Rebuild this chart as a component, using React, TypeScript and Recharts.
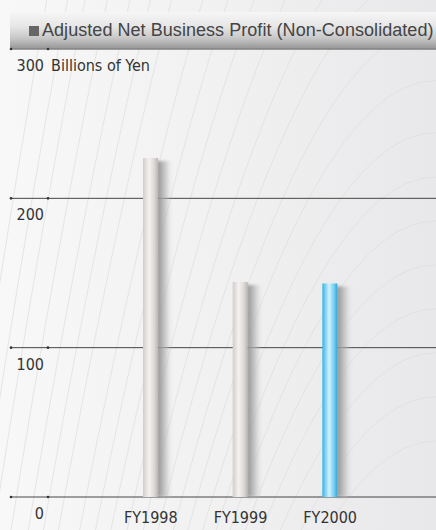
import React from "react";
import { BarChart, Bar, XAxis, YAxis, CartesianGrid } from "recharts";

const categories = ["FY1998", "FY1999", "FY2000"];
const profit = [227, 144, 143];
const yTicks = [0, 100, 200, 300];

const data = categories.map((name, i) => ({ name, profit: profit[i] }));

const NARROW = "'Liberation Sans Narrow', 'DejaVu Sans Condensed', 'Liberation Sans', sans-serif";

// backdrop swirl: where each faint curve crosses y=200 (decoration only)
const swirlX = [13, 32, 48, 68, 88, 106, 124, 150, 170, 190, 212, 235, 257, 282, 308, 340, 380];
const swirlTops = [221, 265, 309, 353, 397, 441];
const K = 137;

function swirlPath(top: number) {
  const x0 = 436 - Math.sqrt(K * (560 - top));
  return `M436,${top} Q${(436 + x0) / 2},${top} ${x0},560`;
}

function YTick(props: any) {
  const { y, payload } = props;
  const v = payload.value;
  return (
    <g>
      <circle cx={11} cy={y} r={1.3} fill="#333" />
      <circle cx={48} cy={y} r={1.3} fill="#333" />
      <text x={44} y={y + 22} textAnchor="end" fontSize={16} fill="#333" fontFamily={NARROW}>
        {v}
      </text>
      {v === 300 && (
        <text x={51} y={y + 22} fontSize={16} fill="#333" fontFamily={NARROW}>
          Billions of Yen
        </text>
      )}
    </g>
  );
}

function XTick(props: any) {
  const { x, y, payload } = props;
  return (
    <text x={x} y={y + 18} textAnchor="middle" fontSize={16} fill="#333" fontFamily={NARROW}>
      {payload.value}
    </text>
  );
}

function BarShape(props: any) {
  const { x, y, width, height, index } = props;
  const fill = index === 2 ? "url(#cyanBar)" : "url(#silverBar)";
  return (
    <g>
      <rect x={x + width - 1} y={y + 3} width={15} height={height - 3} fill="url(#shadowGrad)" filter="url(#soft)" />
      <rect x={x} y={y} width={width} height={height} fill={fill} />
    </g>
  );
}

export default function App() {
  return (
    <div
      style={{
        position: "absolute",
        left: 0,
        top: 0,
        width: 436,
        height: 530,
        overflow: "hidden",
        background: "linear-gradient(90deg, #f8f8f8 0%, #f1f1f2 50%, #e8e8ea 100%)",
      }}
    >
      <svg width={436} height={530} style={{ position: "absolute", left: 0, top: 0 }}>
        {swirlX.map((x) => {
          const top = 200 - ((436 - x) * (436 - x)) / K;
          return <path key={x} d={swirlPath(top)} fill="none" stroke="#dcdcde" strokeWidth={0.7} />;
        })}
        {swirlTops.map((t) => (
          <path key={t} d={swirlPath(t)} fill="none" stroke="#dcdcde" strokeWidth={0.7} />
        ))}
      </svg>
      <div
        style={{
          position: "absolute",
          left: 10,
          top: 12,
          width: 426,
          height: 36,
          background: "linear-gradient(180deg, #f6f6f6 0%, #e6e6e6 40%, #c8c8c8 72%, #9a9a9a 100%)",
          borderBottom: "1px solid #d0d0d0",
        }}
      >
        <div
          style={{
            position: "absolute",
            left: 19,
            top: 7,
            fontFamily: "'Liberation Sans', Arial, sans-serif",
            fontSize: 18,
            letterSpacing: 0.05,
            color: "#444",
            whiteSpace: "nowrap",
            lineHeight: "22px",
          }}
        >
          <span
            style={{
              display: "inline-block",
              width: 10,
              height: 10,
              background: "#666",
              marginRight: 3,
              verticalAlign: "0px",
            }}
          />
          Adjusted Net Business Profit (Non-Consolidated)
        </div>
      </div>
      <div style={{ position: "absolute", left: 0, top: 0 }}>
        <BarChart width={436} height={530} data={data} margin={{ top: 49, right: 0, bottom: 0, left: 9 }}>
          <defs>
            <linearGradient id="silverBar" x1="0" y1="0" x2="1" y2="0">
              <stop offset="0%" stopColor="#d2cdcb" />
              <stop offset="40%" stopColor="#f4f2f1" />
              <stop offset="75%" stopColor="#dcd8d6" />
              <stop offset="100%" stopColor="#bcb6b4" />
            </linearGradient>
            <linearGradient id="cyanBar" x1="0" y1="0" x2="1" y2="0">
              <stop offset="0%" stopColor="#34b4e6" />
              <stop offset="45%" stopColor="#d4f2fd" />
              <stop offset="80%" stopColor="#6ccdf2" />
              <stop offset="100%" stopColor="#2fa6da" />
            </linearGradient>
            <linearGradient id="shadowGrad" x1="0" y1="0" x2="1" y2="0">
              <stop offset="0%" stopColor="#8c8c8c" />
              <stop offset="50%" stopColor="#b0b0b0" stopOpacity={0.7} />
              <stop offset="100%" stopColor="#d0d0d0" stopOpacity={0} />
            </linearGradient>
            <filter id="soft" x="-50%" y="-5%" width="200%" height="110%">
              <feGaussianBlur stdDeviation="1.5" />
            </filter>
          </defs>
          <CartesianGrid vertical={false} stroke="#333" strokeWidth={1} strokeOpacity={0.9} />
          <XAxis
            dataKey="name"
            axisLine={false}
            tickLine={false}
            height={33}
            padding={{ left: 96, right: 61 }}
            tick={<XTick />}
            interval={0}
          />
          <YAxis
            domain={[0, 300]}
            ticks={yTicks}
            width={1}
            axisLine={false}
            tickLine={false}
            tick={<YTick />}
            interval={0}
          />
          <Bar dataKey="profit" barSize={15} shape={<BarShape />} isAnimationActive={false} />
        </BarChart>
      </div>
    </div>
  );
}
